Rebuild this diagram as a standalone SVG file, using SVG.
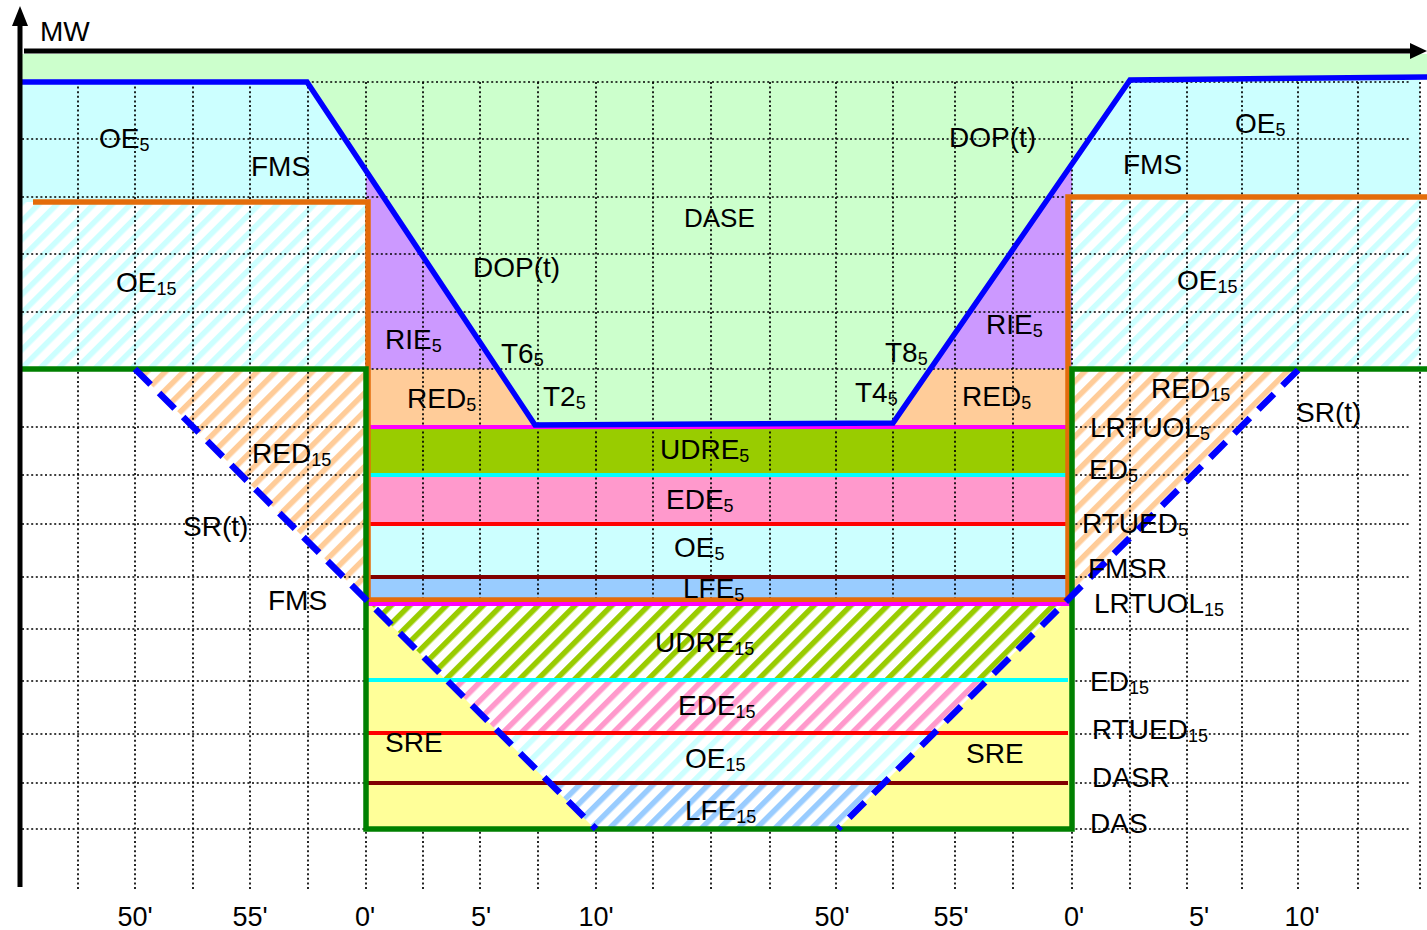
<svg xmlns="http://www.w3.org/2000/svg" width="1427" height="930" viewBox="0 0 1427 930">
<style>
text{font-family:"Liberation Sans",Arial,sans-serif;font-size:28px;fill:#000}
.s{font-size:18px}
.ax{font-size:27px;text-anchor:middle}
.grid line{stroke:#000;stroke-width:1.7;stroke-dasharray:2 2.6}
.ln{fill:none;stroke-width:4}
.thick{stroke-width:5.5}
.dash{stroke-width:6.5;stroke-dasharray:22 12}
</style>
<defs>
<pattern id="hC" patternUnits="userSpaceOnUse" width="13" height="13" patternTransform="rotate(45)"><rect width="13" height="13" fill="#fff"/><rect width="5.5" height="13" fill="#CCFFFF"/></pattern>
<pattern id="hP" patternUnits="userSpaceOnUse" width="13" height="13" patternTransform="rotate(45)"><rect width="13" height="13" fill="#fff"/><rect width="5.5" height="13" fill="#FFCC99"/></pattern>
<pattern id="hG" patternUnits="userSpaceOnUse" width="13" height="13" patternTransform="rotate(45)"><rect width="13" height="13" fill="#fff"/><rect width="5.5" height="13" fill="#99CC00"/></pattern>
<pattern id="hK" patternUnits="userSpaceOnUse" width="13" height="13" patternTransform="rotate(45)"><rect width="13" height="13" fill="#fff"/><rect width="5.5" height="13" fill="#FF99CC"/></pattern>
<pattern id="hB" patternUnits="userSpaceOnUse" width="13" height="13" patternTransform="rotate(45)"><rect width="13" height="13" fill="#fff"/><rect width="5.5" height="13" fill="#99CCFF"/></pattern>
</defs>
<rect width="1427" height="930" fill="#fff"/>
<g id="fills">
<polygon fill="#CCFFCC" points="22,54 1427,54 1427,77 1130,80 893,423 893,427 535,427 535,425 307,82 22,82"/>
<polygon fill="#CCFFFF" points="22,82 307,82 366,171 366,202 22,202"/>
<rect x="22" y="202" width="344" height="167" fill="url(#hC)"/>
<polygon fill="#CC99FF" points="366,171 498,369 366,369"/>
<polygon fill="#FFCC99" points="366,369 498,369 535,425 535,427 366,427"/>
<polygon fill="#CCFFFF" points="1072,164 1130,80 1420,77 1420,197 1072,197"/>
<rect x="1072" y="197" width="348" height="172" fill="url(#hC)"/>
<polygon fill="#CC99FF" points="933,369 1072,164 1072,369"/>
<polygon fill="#FFCC99" points="893,423 933,369 1072,369 1072,427 893,427"/>
<polygon fill="url(#hP)" points="135,369 366,369 366,600"/>
<polygon fill="url(#hP)" points="1072,369 1298,369 1072,597"/>
<rect x="368" y="427" width="700" height="48" fill="#99CC00"/>
<rect x="368" y="475" width="700" height="49" fill="#FF99CC"/>
<rect x="368" y="524" width="700" height="53" fill="#CCFFFF"/>
<rect x="368" y="577" width="700" height="23" fill="#99CCFF"/>
</g>
<g id="grid" class="grid">
<line x1="22" y1="82" x2="1410" y2="82"/>
<line x1="22" y1="139" x2="1410" y2="139"/>
<line x1="22" y1="197" x2="1410" y2="197"/>
<line x1="22" y1="254" x2="1410" y2="254"/>
<line x1="22" y1="312" x2="1410" y2="312"/>
<line x1="22" y1="369" x2="1410" y2="369"/>
<line x1="22" y1="427" x2="1410" y2="427"/>
<line x1="22" y1="475" x2="1410" y2="475"/>
<line x1="22" y1="524" x2="1410" y2="524"/>
<line x1="22" y1="577" x2="1410" y2="577"/>
<line x1="22" y1="629" x2="1410" y2="629"/>
<line x1="22" y1="681" x2="1410" y2="681"/>
<line x1="22" y1="734" x2="1410" y2="734"/>
<line x1="22" y1="783" x2="1410" y2="783"/>
<line x1="22" y1="829" x2="1410" y2="829"/>
<line x1="78" y1="82" x2="78" y2="890"/>
<line x1="135" y1="82" x2="135" y2="890"/>
<line x1="193" y1="82" x2="193" y2="890"/>
<line x1="250" y1="82" x2="250" y2="890"/>
<line x1="308" y1="82" x2="308" y2="890"/>
<line x1="366" y1="82" x2="366" y2="890"/>
<line x1="423" y1="82" x2="423" y2="890"/>
<line x1="480" y1="82" x2="480" y2="890"/>
<line x1="538" y1="82" x2="538" y2="890"/>
<line x1="596" y1="82" x2="596" y2="890"/>
<line x1="653" y1="82" x2="653" y2="890"/>
<line x1="711" y1="82" x2="711" y2="890"/>
<line x1="770" y1="82" x2="770" y2="890"/>
<line x1="836" y1="82" x2="836" y2="890"/>
<line x1="893" y1="82" x2="893" y2="890"/>
<line x1="955" y1="82" x2="955" y2="890"/>
<line x1="1013" y1="82" x2="1013" y2="890"/>
<line x1="1072" y1="82" x2="1072" y2="890"/>
<line x1="1130" y1="82" x2="1130" y2="890"/>
<line x1="1187" y1="82" x2="1187" y2="890"/>
<line x1="1242" y1="82" x2="1242" y2="890"/>
<line x1="1298" y1="82" x2="1298" y2="890"/>
<line x1="1358" y1="82" x2="1358" y2="890"/>
<line x1="1420" y1="82" x2="1420" y2="890"/>
</g>
<g id="lower-box">
<rect x="366" y="604" width="706" height="225" fill="#FFFF99"/>
<polygon fill="url(#hG)" points="370,604 1063,604 987,680 446,680"/>
<polygon fill="url(#hK)" points="446,680 987,680 934,733 499,733"/>
<polygon fill="url(#hC)" points="499,733 934,733 884,783 549,783"/>
<polygon fill="url(#hB)" points="549,783 884,783 838,829 595,829"/>
</g>
<g id="connectors">
<line class="ln" stroke="#FF00FF" x1="368" y1="427" x2="1072" y2="427"/>
<line class="ln" stroke="#00FFFF" x1="369" y1="475" x2="1070" y2="475"/>
<line class="ln" stroke="#FF0000" x1="366" y1="524" x2="1070" y2="524"/>
<line class="ln" stroke="#800000" x1="364" y1="577" x2="1070" y2="577"/>
<path class="ln thick" stroke="#E46C0A" d="M33,202 H368 V600 H1068 V197 H1427"/>
<line class="ln" stroke="#FF00FF" x1="366" y1="604" x2="1070" y2="604"/>
<line class="ln" stroke="#00FFFF" x1="366" y1="680" x2="1068" y2="680"/>
<line class="ln" stroke="#FF0000" x1="366" y1="733" x2="1068" y2="733"/>
<line class="ln" stroke="#800000" x1="366" y1="783" x2="1068" y2="783"/>
<path class="ln thick" stroke="#008000" d="M22,369 H366 V829 H1072 V369 H1427"/>
<path class="ln thick" stroke="#0000FF" d="M20,82 H307 L535,425 L711,424 L893,423 L1130,80 L1427,77"/>
<path class="ln dash" stroke="#0000FF" d="M135,369 L596,829 M1298,370 L838,829"/>
</g>
<g id="axes">
<line x1="20" y1="887" x2="20" y2="24" stroke="#000" stroke-width="5"/>
<polygon points="12,26 20,6 28,26" fill="#000"/>
<line x1="24" y1="51" x2="1414" y2="51" stroke="#000" stroke-width="5"/>
<polygon points="1410,43 1427,51 1410,59" fill="#000"/>
<text x="40" y="41">MW</text>
</g>
<g id="labels">
<text x="99" y="148">OE<tspan class="s" dy="3">5</tspan></text>
<text x="251" y="176">FMS</text>
<text x="116" y="292">OE<tspan class="s" dy="3">15</tspan></text>
<text x="252" y="463">RED<tspan class="s" dy="3">15</tspan></text>
<text x="183" y="536">SR(t)</text>
<text x="268" y="610">FMS</text>
<text x="385" y="349">RIE<tspan class="s" dy="3">5</tspan></text>
<text x="407" y="408">RED<tspan class="s" dy="3">5</tspan></text>
<text x="473" y="277">DOP(t)</text>
<text x="501" y="363">T6<tspan class="s" dy="3">5</tspan></text>
<text x="543" y="406">T2<tspan class="s" dy="3">5</tspan></text>
<text x="684" y="227" style="font-size:26px">DASE</text>
<text x="660" y="459">UDRE<tspan class="s" dy="3">5</tspan></text>
<text x="666" y="509">EDE<tspan class="s" dy="3">5</tspan></text>
<text x="674" y="557">OE<tspan class="s" dy="3">5</tspan></text>
<text x="683" y="598">LFE<tspan class="s" dy="3">5</tspan></text>
<text x="655" y="652">UDRE<tspan class="s" dy="3">15</tspan></text>
<text x="678" y="715">EDE<tspan class="s" dy="3">15</tspan></text>
<text x="685" y="768">OE<tspan class="s" dy="3">15</tspan></text>
<text x="685" y="820">LFE<tspan class="s" dy="3">15</tspan></text>
<text x="385" y="752">SRE</text>
<text x="966" y="763">SRE</text>
<text x="885" y="362">T8<tspan class="s" dy="3">5</tspan></text>
<text x="855" y="402">T4<tspan class="s" dy="3">5</tspan></text>
<text x="949" y="147">DOP(t)</text>
<text x="986" y="334">RIE<tspan class="s" dy="3">5</tspan></text>
<text x="962" y="406">RED<tspan class="s" dy="3">5</tspan></text>
<text x="1235" y="133">OE<tspan class="s" dy="3">5</tspan></text>
<text x="1123" y="174">FMS</text>
<text x="1177" y="290">OE<tspan class="s" dy="3">15</tspan></text>
<text x="1151" y="398">RED<tspan class="s" dy="3">15</tspan></text>
<text x="1296" y="422">SR(t)</text>
<text x="1090" y="437">LRTUOL<tspan class="s" dy="3">5</tspan></text>
<text x="1089" y="479">ED<tspan class="s" dy="3">5</tspan></text>
<text x="1082" y="533">RTUED<tspan class="s" dy="3">5</tspan></text>
<text x="1088" y="578">FMSR</text>
<text x="1094" y="613">LRTUOL<tspan class="s" dy="3">15</tspan></text>
<text x="1090" y="691">ED<tspan class="s" dy="3">15</tspan></text>
<text x="1092" y="739">RTUED<tspan class="s" dy="3">15</tspan></text>
<text x="1092" y="787">DASR</text>
<text x="1090" y="833">DAS</text>
</g>
<g id="x-ticks">
<text class="ax" x="135" y="926">50'</text>
<text class="ax" x="250" y="926">55'</text>
<text class="ax" x="365" y="926">0'</text>
<text class="ax" x="481" y="926">5'</text>
<text class="ax" x="596" y="926">10'</text>
<text class="ax" x="832" y="926">50'</text>
<text class="ax" x="951" y="926">55'</text>
<text class="ax" x="1074" y="926">0'</text>
<text class="ax" x="1199" y="926">5'</text>
<text class="ax" x="1302" y="926">10'</text>
</g>
</svg>
